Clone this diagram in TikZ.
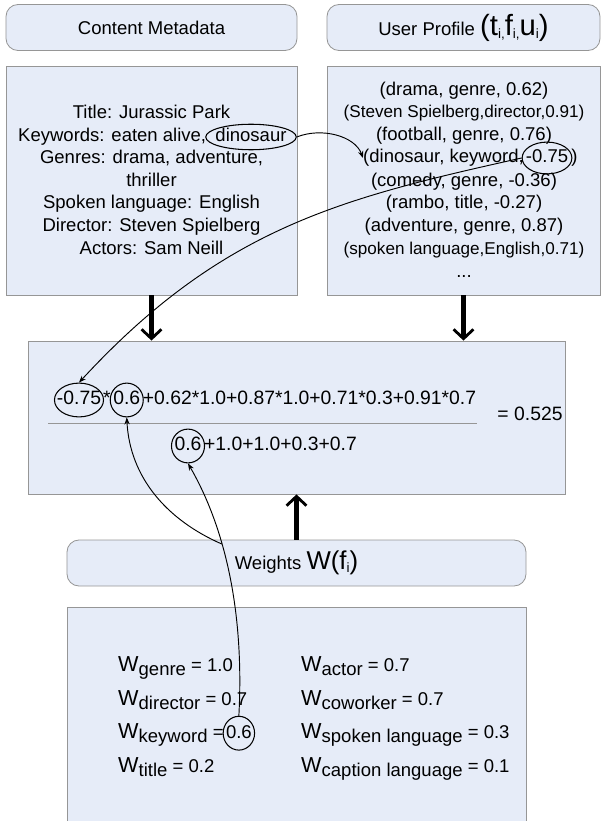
\documentclass[tikz,border=0pt]{standalone}
\usepackage{fontspec}
\setmainfont{Liberation Sans}
\usepackage{tikz}
\usetikzlibrary{positioning, shapes.geometric, arrows.meta}
\definecolor{paleblue}{RGB}{230,236,248}
\definecolor{edgegray}{RGB}{150,150,150}
\newcommand{\txtsz}{\fontsize{15.8}{19}\selectfont}
\newcommand{\smallsz}{\fontsize{14.6}{18}\selectfont}
\newcommand{\fmlsz}{\fontsize{16.5}{19}\selectfont}
\newcommand{\bigsz}{\fontsize{25}{25}\selectfont}
\newcommand{\subsz}{\fontsize{11.5}{12}\selectfont}
\newcommand{\wsub}[1]{{\fontsize{18.5}{19}\selectfont W}\raisebox{-3.5pt}{#1}}
\tikzset{
  panel/.style={draw=edgegray, fill=paleblue, line width=0.7pt, inner sep=0pt, font=\txtsz},
  tab/.style={panel, rounded corners=0.36cm},
  txt/.style={inner sep=0pt, font=\txtsz, text height=11.5pt, text depth=3.3pt},
  ring/.style={txt, draw, ellipse, line width=0.9pt, inner xsep=-3pt, inner ysep=2.2pt},
  feed/.style={line width=3.6pt, -{Straight Barb[length=8pt, width=17pt, line width=2.4pt]}},
  link/.style={line width=0.8pt, -{Stealth[length=6pt, width=4.5pt]}},
}

\begin{document}
\begin{tikzpicture}[x=0.03cm, y=-0.03cm]
	\useasboundingbox (0,0) rectangle (601,821);
	
	% headers
	\node[tab, minimum width=8.73cm, minimum height=1.38cm] (cmeta) at (151.5,27.5) {Content Metadata};
	\node[tab, minimum width=8.19cm, minimum height=1.38cm] (uprof) at (463.5,27.5) {User Profile {\bigsz(t}\raisebox{-2.5pt}{\subsz i,}{\bigsz f}\raisebox{-2.5pt}{\subsz i,}{\bigsz u}\raisebox{-2.5pt}{\subsz i}{\bigsz)}};
	
	% content metadata
	\node[panel, minimum width=8.73cm, minimum height=6.87cm] (cbox) at (151.5,180.5) {};
	\node[txt] (ctitle) at (151.5,114) {Title: Jurassic Park};
	\node[ring, inner ysep=0.3pt] (dino) at (251,137) {dinosaur};
	\node[txt, left=-1pt of dino] (ckey) {Keywords: eaten alive,};
	\node[txt] (cgenre) at (151.5,159) {Genres: drama, adventure,};
	\node[txt] (cthrill) at (151.5,182) {thriller};
	\node[txt] (cspoken) at (151.5,204) {Spoken language: English};
	\node[txt] (cdir) at (151.5,227) {Director: Steven Spielberg};
	\node[txt] (cact) at (151.5,250) {Actors: Sam Neill};
	
	% user profile
	\node[panel, minimum width=8.19cm, minimum height=6.87cm] (pbox) at (463.5,180.5) {};
	\node[txt] (pdrama) at (464,91) {(drama, genre, 0.62)};
	\node[txt, font=\smallsz] (pspiel) at (464,113) {(Steven Spielberg,director,0.91)};
	\node[txt] (pfoot) at (464,136) {(football, genre, 0.76)};
	\node[ring] (pneg) at (547,158) {-0.75};
	\node[txt, left=-2pt of pneg] (pdino) {(dinosaur, keyword,};
	\node[txt, right=-1pt of pneg] (pclose) {)};
	\node[txt] (pcomedy) at (464,182) {(comedy, genre, -0.36)};
	\node[txt] (prambo) at (464,204) {(rambo, title, -0.27)};
	\node[txt] (padv) at (464,227) {(adventure, genre, 0.87)};
	\node[txt, font=\smallsz] (pspoken) at (464,250) {(spoken language,English,0.71)};
	\node[txt] (pdots) at (464,273) {...};
	
	% score
	\node[panel, minimum width=16.11cm, minimum height=4.59cm] (fbox) at (296.5,417.5) {};
	\node[ring, font=\fmlsz, inner xsep=-4pt, inner ysep=2.8pt] (nneg) at (79,400) {-0.75};
	\node[txt, font=\fmlsz, right=-1pt of nneg] (nstar) {*};
	\node[ring, font=\fmlsz, inner xsep=-1.5pt, inner ysep=2.8pt, right=-1pt of nstar] (nkey) {0.6};
	\node[txt, font=\fmlsz, right=-1pt of nkey] (nrest) {+0.62*1.0+0.87*1.0+0.71*0.3+0.91*0.7};
	\draw[edgegray, line width=0.8pt] (48,423) -- (477,423);
	\node[ring, font=\fmlsz, inner xsep=-1.5pt, inner ysep=2.8pt] (dkey) at (188,446) {0.6};
	\node[txt, font=\fmlsz, right=-1pt of dkey] (drest) {+1.0+1.0+0.3+0.7};
	\node[txt, font=\fmlsz] (fres) at (530,416) {= 0.525};
	
	% weights
	\node[tab, minimum width=13.77cm, minimum height=1.38cm] (wname) at (296.5,563) {Weights {\fontsize{22}{22}\selectfont W(f}\raisebox{-2pt}{\subsz i}{\fontsize{22}{22}\selectfont )}};
	\node[panel, minimum width=13.77cm, minimum height=6.78cm] (wbox) at (296.5,720) {};
	\node[txt, anchor=base west] (wgenre) at (118,671) {\wsub{genre} = 1.0};
	\node[txt, anchor=base west] (wdir) at (118,705) {\wsub{director} = 0.7};
	\node[txt, anchor=base west] (wkey) at (118,738) {\wsub{keyword} =};
	\node[ring, inner xsep=-1.5pt, inner ysep=2.8pt, right=-1pt of wkey] (wkeyv) {0.6};
	\node[txt, anchor=base west] (wtitle) at (118,772) {\wsub{title} = 0.2};
	\node[txt, anchor=base west] (wactor) at (301,671) {\wsub{actor} = 0.7};
	\node[txt, anchor=base west] (wcowork) at (301,705) {\wsub{coworker} = 0.7};
	\node[txt, anchor=base west] (wspoken) at (301,738) {\wsub{spoken language} = 0.3};
	\node[txt, anchor=base west] (wcaption) at (301,772) {\wsub{caption language} = 0.1};
	
	\draw[feed] (cbox.south) -- (cbox.south |- fbox.north);
	\draw[feed] (pbox.south) -- (pbox.south |- fbox.north);
	\draw[feed] (wname.north) -- (fbox.south);
	
	\draw[link] (dino.east) .. controls +(25,-10) and +(-8,-22) .. (pdino.west);
	\draw[link] (pneg.west) .. controls +(-180,40) and +(143,-155) .. (nneg.north);
	\draw[link] (wkeyv.north) .. controls +(6,-114) and +(33,57) .. (dkey.south) node[coordinate, pos=0.6] (wsplit) {};
	\draw[link] (wsplit) .. controls +(-55,-24) and +(3,60) .. (nkey.south);
	
\end{tikzpicture}
\end{document}
